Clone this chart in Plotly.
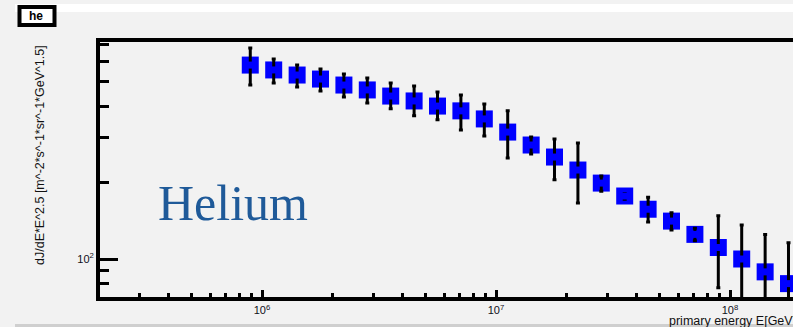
import plotly.graph_objects as go

# ---- data ----
energy = [8.91e5, 1.122e6, 1.413e6, 1.778e6, 2.239e6, 2.818e6, 3.548e6, 4.467e6,
          5.623e6, 7.079e6, 8.913e6, 1.122e7, 1.413e7, 1.778e7, 2.239e7, 2.818e7,
          3.548e7, 4.467e7, 5.623e7, 7.079e7, 8.913e7, 1.122e8, 1.413e8, 1.778e8]
flux = [580, 555, 530, 511, 484, 463, 438, 419, 400, 383, 356, 316,
        281, 252, 224, 199, 177, 157, 141, 125, 111, 100, 89, 80]
flux_hi = [677, 613, 580, 560, 535, 516, 493, 480, 454, 442, 408, 383,
           302, 297, 286, 212, 181, 175, 152, 132, 148, 136, 125, 116]
flux_lo = [484, 493, 475, 459, 434, 411, 390, 366, 353, 322, 305, 250,
           259, 205, 166, 185, 172, 140, 130, 118, 77, 60, 50, 40]

x_major_vals = [1e6, 1e7, 1e8]
x_major_text = ["10<sup>6</sup>", "10<sup>7</sup>", "10<sup>8</sup>"]
x_minor_vals = [m * d for d in (1e5, 1e6, 1e7, 1e8) for m in range(2, 10)]
y_major_vals = [100]
y_major_text = ["10<sup>2</sup>"]
y_minor_vals = [m * d for d in (10, 100) for m in range(2, 10)]

err_plus = [h - f for h, f in zip(flux_hi, flux)]
err_minus = [f - l for f, l in zip(flux, flux_lo)]

W, H = 793, 327
L, R, T, B = 100, 0, 42, 30
PW, PH = W - L - R, H - T - B


def px(x):
    return (x - L) / PW


def py(y):
    return (H - B - y) / PH


BLUE = "#0000ff"
BG = "#f2f2f2"

fig = go.Figure()
fig.add_trace(go.Scatter(x=energy, y=flux, mode="markers",
                         marker=dict(symbol="square", size=17, color=BLUE,
                                     line=dict(width=0)),
                         showlegend=False, hoverinfo="skip"))
fig.add_trace(go.Scatter(x=energy, y=flux, mode="markers",
                         marker=dict(size=0.1, color="rgba(0,0,0,0)"),
                         error_y=dict(type="data", array=err_plus, arrayminus=err_minus,
                                      color="black", thickness=3, width=2, symmetric=False),
                         showlegend=False, hoverinfo="skip"))
fig.add_trace(go.Scatter(x=energy, y=flux, mode="markers",
                         marker=dict(symbol="square", size=7, color=BLUE,
                                     line=dict(width=0)),
                         showlegend=False, hoverinfo="skip"))

axis_font = dict(family="Liberation Sans", size=11, color="#101020")

fig.update_xaxes(type="log", range=[5.3077, 8.2692],
                 tickmode="array", tickvals=x_major_vals, ticktext=x_major_text,
                 ticks="inside", ticklen=7, tickwidth=3, tickcolor="black",
                 showline=True, linewidth=4, linecolor="black", mirror=True,
                 showgrid=False, zeroline=False, tickfont=axis_font,
                 minor=dict(tickmode="array", tickvals=x_minor_vals, ticks="inside",
                            ticklen=4, tickwidth=3, tickcolor="black", showgrid=False))
fig.update_yaxes(type="log", range=[1.8504, 2.8543],
                 tickmode="array", tickvals=y_major_vals, ticktext=y_major_text,
                 ticks="inside", ticklen=18, tickwidth=3, tickcolor="black",
                 showline=True, linewidth=4, linecolor="black", mirror=False,
                 showgrid=False, zeroline=False, tickfont=axis_font,
                 minor=dict(tickmode="array", tickvals=y_minor_vals, ticks="inside",
                            ticklen=9, tickwidth=3, tickcolor="black", showgrid=False))

shapes = [
    dict(type="rect", xref="paper", yref="paper", x0=px(15), x1=px(793), y0=py(12), y1=py(4),
         fillcolor="white", line=dict(width=0), layer="below"),
    dict(type="rect", xref="paper", yref="paper", x0=px(15), x1=px(793), y0=py(327), y1=py(324),
         fillcolor="#cfcfcf", line=dict(width=0), layer="below"),
    dict(type="rect", xref="paper", yref="paper", x0=px(19.5), x1=px(54.5), y0=py(25), y1=py(7),
         fillcolor="white", line=dict(color="black", width=4)),
]

annotations = [
    dict(text="<b>he</b>", x=px(36), y=py(16), xref="paper", yref="paper", showarrow=False,
         xanchor="center", yanchor="middle",
         font=dict(family="Liberation Sans", size=12, color="black")),
    dict(text="Helium", x=px(156), y=py(203), xref="paper", yref="paper", showarrow=False,
         xanchor="left", yanchor="middle",
         font=dict(family="Liberation Serif", size=50, color="#1f5a99")),
    dict(text="dJ/dE*E^2.5 [m^-2*s^-1*sr^-1*GeV^1.5]", x=px(40), y=py(155),
         xref="paper", yref="paper", showarrow=False, textangle=-90,
         xanchor="center", yanchor="middle",
         font=dict(family="Liberation Sans", size=12.5, color="#111111")),
    dict(text="primary energy E[GeV]", x=px(667), y=py(321), xref="paper", yref="paper",
         showarrow=False, xanchor="left", yanchor="middle",
         font=dict(family="Liberation Sans", size=12.5, color="#111111")),
]

fig.update_layout(width=W, height=H, margin=dict(l=L, r=R, t=T, b=B, pad=0),
                  paper_bgcolor=BG, plot_bgcolor=BG,
                  shapes=shapes, annotations=annotations, showlegend=False)

fig.write_html("out.html")
